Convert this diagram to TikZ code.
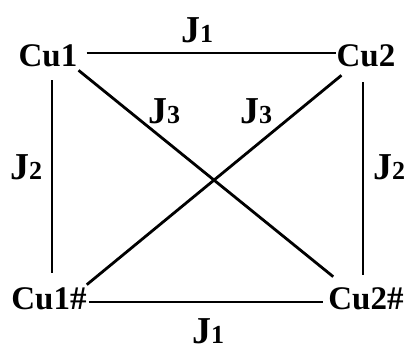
\documentclass[tikz,border=0pt]{standalone}
\usepackage{fontspec}
\setmainfont{Liberation Serif}
\newcommand\Jlab[1]{{\fontsize{38}{38}\selectfont\bfseries J}{\fontsize{26}{26}\selectfont\bfseries #1}}
\begin{document}
\begin{tikzpicture}[x=1pt,y=-1pt,
  site/.style={inner sep=0pt,font=\fontsize{33}{33}\selectfont\bfseries},
  lab/.style={inner sep=0pt,anchor=base west},
  bond/.style={line width=2.8pt}]
\useasboundingbox (0,0) rectangle (409,345);
\node[site] (cu1) at (48,56) {Cu1};
\node[site] (cu2) at (366,56) {Cu2};
\node[site] (cu1h) at (49,299) {Cu1\#};
\node[site] (cu2h) at (366,299) {Cu2\#};
\node[lab] (j1t) at (181,42) {\Jlab{1}};
\node[lab] (j1b) at (192,343) {\Jlab{1}};
\node[lab] (j2l) at (10,179) {\Jlab{2}};
\node[lab] (j2r) at (373,179) {\Jlab{2}};
\node[lab] (j3l) at (148,123) {\Jlab{3}};
\node[lab] (j3r) at (240,123) {\Jlab{3}};
\draw[bond] ([xshift=9pt,yshift=3pt]cu1.east) -- ([yshift=3pt]cu2.west);
\draw[bond] ([xshift=2pt,yshift=-3pt]cu1h.east) -- ([xshift=-5pt,yshift=-3pt]cu2h.west);
\draw[bond] ([xshift=4pt,yshift=-13pt]cu1.south) -- ([xshift=3pt,yshift=15pt]cu1h.north);
\draw[bond] ([xshift=-3pt,yshift=-15pt]cu2.south) -- ([xshift=-3pt,yshift=13pt]cu2h.north);
\draw[bond] ([xshift=1pt,yshift=-3pt]cu1.south east) -- ([xshift=5pt,yshift=11pt]cu2h.north west);
\draw[bond] ([xshift=5pt,yshift=-8pt]cu2.south west) -- ([yshift=3pt]cu1h.north east);
\end{tikzpicture}
\end{document}
